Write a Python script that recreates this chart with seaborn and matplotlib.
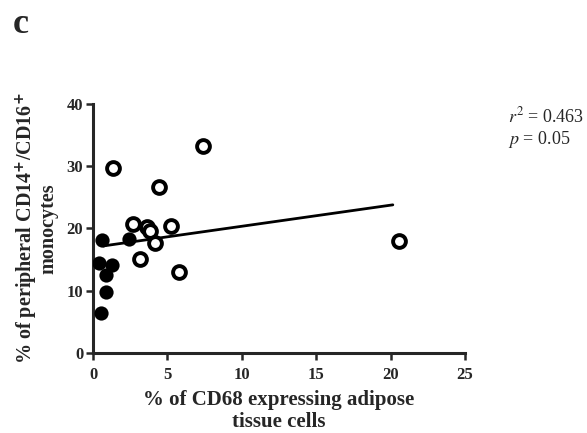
import numpy as np
import pandas as pd
import matplotlib
matplotlib.use('Agg')
import matplotlib.pyplot as plt
import seaborn as sns

# values
filled_x = [0.63, 0.43, 1.25, 0.85, 0.90, 0.54, 2.44]
filled_y = [18.15, 14.4, 14.1, 12.5, 9.85, 6.5, 18.25]
open_x = [1.32, 2.67, 3.65, 3.83, 4.17, 3.16, 4.42, 5.27, 5.76, 7.37, 20.58]
open_y = [29.65, 20.65, 20.3, 19.65, 17.65, 15.1, 26.6, 20.35, 12.95, 33.3, 18.05]
fit_x = [0.69, 20.15]
fit_y = [17.2, 23.8]
x_ticks = [0, 5, 10, 15, 20, 25]
y_ticks = [0, 10, 20, 30, 40]

sns.set_style('ticks')
plt.rcParams['font.family'] = ['Liberation Serif', 'DejaVu Serif']

filled = pd.DataFrame({'x': filled_x, 'y': filled_y})
hollow = pd.DataFrame({'x': open_x, 'y': open_y})
fit = pd.DataFrame({'x': fit_x, 'y': fit_y})

fig = plt.figure(figsize=(5.87, 4.33), dpi=100)
ax = fig.add_axes([93 / 587, 1 - 353 / 433, 372 / 587, 249 / 433])

sns.lineplot(data=fit, x='x', y='y', ax=ax, color='black', linewidth=2)
sns.scatterplot(data=filled, x='x', y='y', ax=ax, color='black', s=105,
                edgecolor='black', linewidth=0, zorder=3)
sns.scatterplot(data=hollow, x='x', y='y', ax=ax, facecolor='white', s=85,
                edgecolor='black', linewidth=2.8, zorder=3)

ax.set_xlim(0, 25)
ax.set_ylim(0, 40)
ax.set_xticks(x_ticks)
ax.set_yticks(y_ticks)
ax.set_xticklabels([str(t) for t in x_ticks], fontweight='bold', fontsize=12)
ax.set_yticklabels([str(t) for t in y_ticks], fontweight='bold', fontsize=12)
ax.tick_params(width=1.8, length=5)
ax.tick_params(axis='x', pad=5)
ax.tick_params(axis='y', pad=2)
sns.despine(ax=ax)
for s in ['left', 'bottom']:
    ax.spines[s].set_linewidth(2.2)

ax.set_xlabel('% of CD68 expressing adipose\ntissue cells', fontsize=15,
              fontweight='bold', linespacing=1.15)
ax.xaxis.set_label_coords(0.5, -0.148)
ax.xaxis.label.set_va('top')
ax.set_ylabel('% of peripheral CD14$^{\\mathbf{+}}$/CD16$^{\\mathbf{+}}$\nmonocytes',
              fontsize=14.5, fontweight='bold', linespacing=0.95)
ax.yaxis.set_label_coords(-0.092, 0.5)

fig.text(508 / 587, 1 - 122 / 433, '$r^2$ = 0.463', fontsize=13,
         va='baseline', ha='left', math_fontfamily='stix')
fig.text(508 / 587, 1 - 144 / 433, '$p$ = 0.05', fontsize=13,
         va='baseline', ha='left', math_fontfamily='stix')
fig.text(13 / 587, 1 - 33 / 433, 'c', fontsize=26, fontweight='bold',
         va='baseline', ha='left')

fig.savefig('out.png', dpi=100)
